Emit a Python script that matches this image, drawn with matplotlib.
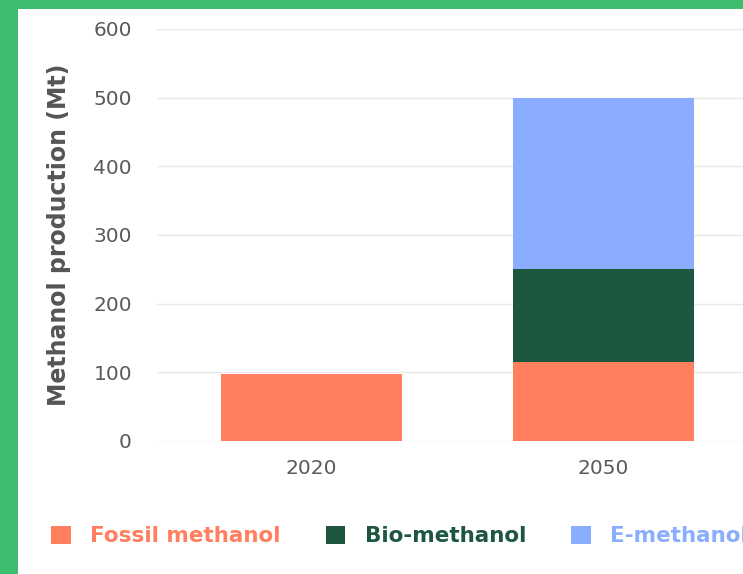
import numpy as np
import matplotlib.pyplot as plt
from matplotlib.patches import Rectangle

years = ["2020", "2050"]
fossil = [98, 115]
bio = [0, 135]
emeth = [0, 250]
series_names = ["Fossil methanol", "Bio-methanol", "E-methanol"]
colors = ["#FF7F5F", "#1D5740", "#8AADFF"]

W, H = 743, 574
fig = plt.figure(figsize=(W / 100, H / 100), dpi=100)
fig.patch.set_facecolor("#3DBE6E")
# white panel inside the green frame
fig.patches.append(Rectangle((18 / W, 0), 1, (H - 9) / H, transform=fig.transFigure,
                             facecolor="white", edgecolor="none", zorder=-1))

ax = fig.add_axes([157 / W, (H - 441) / H, 601 / W, 412 / H])
ax.set_facecolor("none")
ax.set_zorder(2)

x = np.arange(len(years))
fossil = np.array(fossil)
bio = np.array(bio)
emeth = np.array(emeth)
w = 0.62
b1 = ax.bar(x, fossil, w, color=colors[0], zorder=3)
b2 = ax.bar(x, bio, w, bottom=fossil, color=colors[1], zorder=3)
b3 = ax.bar(x, emeth, w, bottom=fossil + bio, color=colors[2], zorder=3)

ax.set_xlim(-0.529, 1.529)
ax.set_ylim(0, 600)
ax.set_yticks(range(0, 601, 100))
ax.set_xticks(x)
ax.set_xticklabels(years)
ax.yaxis.grid(True, color="#e8e8e8", linewidth=1.0, zorder=0)
for s in ax.spines.values():
    s.set_visible(False)
ax.tick_params(axis="both", length=0, labelsize=14.5, labelcolor="#5a5a5a")
ax.tick_params(axis="y", pad=18)
ax.tick_params(axis="x", pad=13)
ax.set_ylabel("Methanol production (Mt)", fontsize=17, fontweight="bold",
              color="#555555", labelpad=16)

leg = fig.legend([b1, b2, b3], series_names, loc="center left",
                 bbox_to_anchor=(32 / W, 1 - 536 / H), ncol=3, frameon=False,
                 prop={"weight": "bold", "size": 15.5},
                 labelcolor=colors, handlelength=0.9, handleheight=0.9,
                 handletextpad=0.9, columnspacing=2.1)

fig.savefig("out.png", dpi=100, facecolor=fig.get_facecolor())
